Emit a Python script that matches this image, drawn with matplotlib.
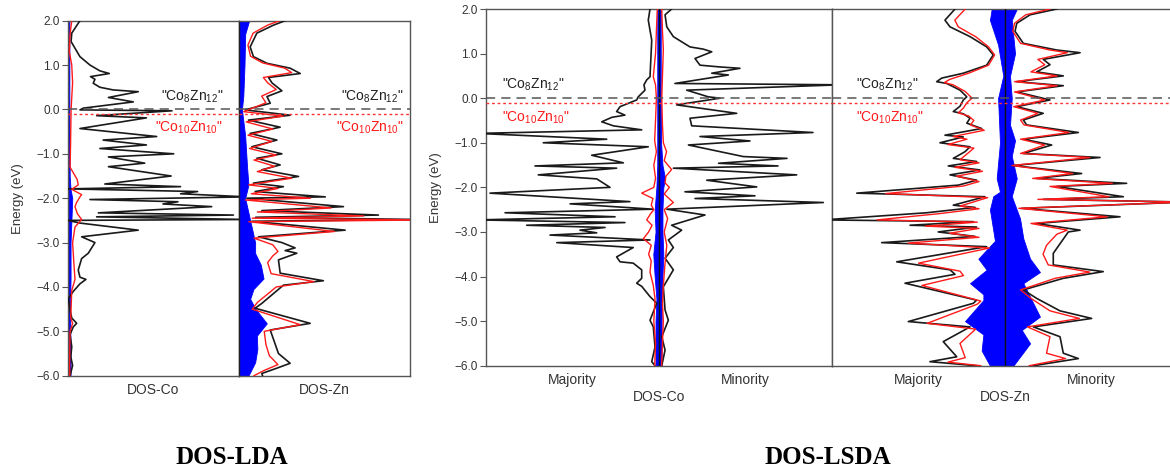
import numpy as np
import matplotlib
matplotlib.use("Agg")
import matplotlib.pyplot as plt

plt.rcParams['font.family'] = ['Liberation Sans', 'DejaVu Sans']

# ---------------- LDA, Co projected DOS ----------------
lda_co_black_e = [2.0, 1.72, 1.53, 1.19, 1.0, 0.87, 0.81, 0.74, 0.68, 0.59, 0.50, 0.44, 0.40, 0.27, 0.17,
                  0.03, -0.01, -0.03, -0.14, -0.19, -0.43, -0.61, -0.69, -0.80, -0.88, -1.0, -1.07, -1.21,
                  -1.29, -1.50, -1.68, -1.74, -1.79, -1.85, -1.90, -1.97, -2.03, -2.08, -2.13, -2.19, -2.33,
                  -2.38, -2.42, -2.48, -2.50, -2.56, -2.72, -2.87, -3.0, -3.24, -3.36, -3.62, -3.78, -3.83,
                  -3.93, -4.10, -4.26, -4.52, -4.70, -4.82, -4.90, -5.07, -5.35, -5.57, -5.77, -6.0]
lda_co_black = [0.70, 0.22, 0.18, 0.70, 1.29, 1.87, 2.42, 1.32, 1.58, 1.48, 1.87, 2.65, 4.12, 2.37, 3.83,
                0.90, 0.70, 6.10, 1.68, 4.60, 0.70, 5.20, 2.06, 4.60, 1.87, 6.20, 2.37, 4.50,
                2.37, 6.05, 2.16, 6.60, 0.0, 7.60, 6.60, 10.5, 1.29, 6.45, 5.57, 8.43, 1.78,
                9.70, 1.68, 10.5, 0.0, 0.70, 4.12, 0.80, 1.58, 1.19, 0.80, 0.60, 0.70, 1.05,
                0.70, 0.31, 0.02, 0.12, 0.22, 0.51, 0.31, 0.12, 0.22, 0.16, 0.27, 0.12]
lda_co_red_e = [2.0, 1.7, 1.3, 1.0, 0.6, 0.0, -0.8, -1.3, -1.58, -1.70, -1.80, -1.92, -1.97, -2.10, -2.19,
                -2.35, -2.48, -2.65, -3.0, -3.5, -3.83, -4.08, -4.70, -4.82, -5.0, -5.5, -6.0]
lda_co_red = [0.22, 0.12, 0.08, 0.22, 0.27, 0.18, 0.15, 0.12, 0.54, 0.60, 0.22, 0.80, 0.70, 0.50, 0.41,
              0.55, 0.80, 0.41, 0.27, 0.35, 0.41, 0.22, 0.16, 0.27, 0.12, 0.10, 0.10]
lda_co_blue_e = [2.0, 0.0, -1.5, -1.8, -2.0, -2.5, -3.0, -3.8, -4.5, -5.5, -6.0]
lda_co_blue = [0.08, 0.08, 0.10, 0.15, 0.25, 0.20, 0.15, 0.15, 0.12, 0.15, 0.15]

# ---------------- LDA, Zn projected DOS ----------------
lda_zn_black_e = [2.0, 1.9, 1.72, 1.41, 1.19, 1.04, 0.93, 0.81, 0.72, 0.60, 0.42, 0.29, 0.14, -0.01,
                  -0.13, -0.24, -0.40, -0.54, -0.69, -0.84, -1.0, -1.10, -1.25, -1.36, -1.51, -1.66,
                  -1.74, -1.85, -1.97, -2.0, -2.19, -2.28, -2.38, -2.43, -2.48, -2.52, -2.72, -2.87,
                  -3.0, -3.12, -3.18, -3.24, -3.39, -3.69, -3.86, -3.96, -4.37, -4.48, -4.82, -4.97,
                  -5.5, -5.72, -5.83, -5.95, -6.0]
lda_zn_black = [2.72, 2.04, 1.07, 0.68, 0.87, 1.66, 3.01, 3.60, 1.75, 1.95, 2.53, 1.66, 1.85, 0.39,
                3.01, 0.58, 2.43, 0.68, 2.24, 0.78, 2.53, 1.07, 2.43, 1.36, 3.50, 0.87,
                2.62, 0.97, 5.06, 0.49, 6.12, 1.36, 8.16, 1.0, 10.5, 0.78, 6.22, 1.17,
                2.53, 3.30, 2.72, 3.40, 2.33, 2.43, 4.95, 2.62, 1.36, 0.97, 4.18, 1.85,
                2.33, 3.01, 2.24, 1.36, 1.40]
lda_zn_red_e = [2.0, 1.9, 1.72, 1.45, 1.2, 1.05, 0.93, 0.83, 0.72, 0.6, 0.45, 0.3, 0.15, -0.05, -0.15,
                -0.28, -0.44, -0.58, -0.72, -0.88, -1.03, -1.14, -1.28, -1.4, -1.55, -1.7, -1.78, -1.9,
                -2.0, -2.04, -2.22, -2.31, -2.4, -2.45, -2.49, -2.53, -2.75, -2.9, -3.05, -3.2, -3.3,
                -3.45, -3.7, -3.88, -4.0, -4.35, -4.5, -4.85, -5.0, -5.3, -5.55, -5.75, -5.88, -6.0]
lda_zn_red = [2.4, 1.7, 0.85, 0.55, 0.7, 1.4, 2.7, 3.1, 1.45, 1.7, 2.2, 1.35, 1.6, 0.3, 2.6,
              0.45, 2.0, 0.55, 1.95, 0.65, 2.2, 0.9, 2.1, 1.1, 3.1, 0.6, 2.3, 0.75,
              4.2, 0.4, 5.4, 1.1, 7.3, 0.8, 11.0, 0.6, 5.6, 0.9, 2.0, 2.3, 2.0,
              1.7, 1.9, 4.4, 2.2, 1.1, 0.8, 3.6, 1.5, 1.6, 1.8, 2.3, 1.5, 0.9]
lda_zn_blue_e = [2.0, 1.7, 1.0, 0.3, 0.0, -0.6, -1.3, -1.7, -2.0, -2.5, -3.0, -3.24, -3.5, -3.81,
                 -4.05, -4.27, -4.5, -4.82, -5.1, -5.4, -5.7, -6.0]
lda_zn_blue = [0.62, 0.39, 0.35, 0.28, 0.20, 0.39, 0.50, 0.58, 0.39, 0.68, 0.97, 0.97, 1.30, 1.46,
               0.87, 0.68, 1.00, 1.65, 1.07, 1.10, 0.97, 0.58]

# ---------------- LSDA, Co (majority < 0, minority > 0) ----------------
lsda_co_maj_black_e = [2.0, 1.75, 1.30, 0.48, 0.41, 0.30, 0.18, 0.03, -0.04, -0.19, -0.30, -0.38, -0.43,
                       -0.53, -0.62, -0.71, -0.79, -0.92, -1.0, -1.09, -1.28, -1.45, -1.52, -1.57, -1.72,
                       -1.81, -2.0, -2.13, -2.32, -2.37, -2.49, -2.57, -2.66, -2.73, -2.79, -2.85, -2.90,
                       -2.96, -3.02, -3.07, -3.18, -3.24, -3.35, -3.56, -3.67, -3.70, -3.85, -4.04, -4.15,
                       -4.22, -4.45, -4.60, -4.98, -5.13, -5.58, -5.91, -6.0]
lsda_co_maj_black = [-0.52, -0.62, -0.42, -0.52, -0.71, -0.87, -0.81, -1.20, -1.29, -2.25, -2.45, -1.97, -2.73,
                     -3.31, -2.64, -1.0, -10.5, -3.02, -6.69, -0.62, -3.89, -2.06, -7.17, -2.45, -6.98,
                     -3.60, -2.83, -9.77, -1.68, -5.14, -0.33, -8.90, -2.54, -10.5, -1.97, -7.65, -3.12,
                     -4.57, -3.60, -6.30, -0.52, -5.91, -1.49, -2.45, -2.25, -1.49, -1.0, -1.0, -1.29,
                     -1.0, -0.52, -0.13, -0.52, -0.33, -0.23, -0.42, -0.23]
lsda_co_min_black_e = [2.0, 1.87, 1.6, 1.38, 1.15, 1.10, 1.04, 0.89, 0.74, 0.70, 0.67, 0.56, 0.52, 0.33,
                       0.30, 0.18, 0.03, 0.0, -0.15, -0.34, -0.45, -0.62, -0.77, -0.86, -0.96, -1.05,
                       -1.31, -1.35, -1.46, -1.52, -1.57, -1.72, -1.84, -1.99, -2.10, -2.19, -2.25, -2.34,
                       -2.49, -2.62, -2.85, -2.96, -3.18, -3.35, -3.59, -3.85, -4.23, -4.75, -4.98, -5.35,
                       -5.65, -6.0]
lsda_co_min_black = [0.73, 0.35, 0.45, 0.83, 1.79, 2.56, 3.05, 2.08, 2.37, 3.53, 4.68, 3.05, 4.01, 0.92,
                     10.5, 1.60, 2.85, 3.53, 1.02, 4.49, 1.79, 1.89, 8.90, 2.37, 5.26, 1.70,
                     4.88, 7.40, 3.44, 6.88, 0.83, 7.96, 2.76, 5.65, 1.50, 5.55, 2.08, 9.50,
                     0.45, 2.66, 0.73, 1.31, 0.54, 0.83, 0.35, 0.83, 0.25, 0.35, 0.54, 0.16,
                     0.35, 0.16]
lsda_co_maj_red_e = [2.0, 1.5, 1.0, 0.48, 0.3, 0.0, -0.5, -0.95, -1.2, -1.5, -1.8, -2.0, -2.13, -2.25,
                     -2.4, -2.5, -2.6, -2.73, -2.85, -3.0, -3.15, -3.3, -3.5, -3.65, -3.9, -4.2, -4.5,
                     -5.0, -5.5, -6.0]
lsda_co_maj_red = [-0.10, -0.15, -0.20, -0.33, -0.20, -0.15, -0.20, -0.25, -0.15, -0.30, -0.20, -0.30, -1.0,
                   -0.35, -0.45, -0.30, -0.50, -0.71, -0.40, -0.60, -0.90, -0.45, -0.60, -0.45, -0.52,
                   -0.33, -0.23, -0.30, -0.20, -0.25]
lsda_co_min_red_e = [2.0, 1.5, 1.1, 0.5, 0.0, -0.6, -1.0, -1.2, -1.4, -1.6, -1.75, -1.9, -2.0, -2.15,
                     -2.34, -2.5, -2.7, -3.0, -3.3, -3.7, -4.2, -4.6, -5.0, -5.5, -6.0]
lsda_co_min_red = [0.16, 0.20, 0.25, 0.20, 0.16, 0.20, 0.25, 0.44, 0.30, 0.73, 0.40, 0.35, 0.60, 0.30,
                   0.83, 0.30, 0.50, 0.30, 0.45, 0.35, 0.25, 0.20, 0.25, 0.20, 0.15]
lsda_co_maj_blue_e = [2.0, 0.0, -1.5, -2.0, -2.5, -3.0, -3.5, -4.0, -4.5, -5.0, -6.0]
lsda_co_maj_blue = [-0.10, -0.10, -0.10, -0.15, -0.25, -0.20, -0.33, -0.25, -0.15, -0.20, -0.20]
lsda_co_min_blue_e = [2.0, 0.0, -1.0, -1.5, -1.8, -2.0, -2.5, -3.0, -3.5, -4.0, -5.0, -6.0]
lsda_co_min_blue = [0.10, 0.10, 0.12, 0.20, 0.35, 0.25, 0.20, 0.20, 0.25, 0.20, 0.15, 0.15]

# ---------------- LSDA, Zn ----------------
lsda_zn_maj_black_e = [2.0, 1.75, 1.6, 1.38, 1.15, 0.97, 0.74, 0.56, 0.45, 0.37, 0.33, 0.18, 0.03, -0.04,
                       -0.18, -0.30, -0.35, -0.45, -0.56, -0.68, -0.83, -0.87, -1.0, -1.09, -1.2, -1.35,
                       -1.42, -1.52, -1.61, -1.72, -1.84, -1.95, -2.13, -2.21, -2.40, -2.45, -2.57, -2.73,
                       -2.77, -2.85, -2.89, -3.0, -3.1, -3.24, -3.33, -3.67, -3.85, -3.95, -4.15, -4.53,
                       -4.6, -5.01, -5.13, -5.46, -5.8, -5.91, -6.0]
lsda_zn_maj_black = [-2.89, -3.47, -3.18, -2.02, -1.06, -0.68, -1.06, -2.41, -3.66, -3.95, -3.37, -2.60, -2.21, -2.41,
                     -2.60, -2.99, -2.41, -2.02, -2.21, -1.35, -3.47, -2.41, -3.76, -2.02, -2.31, -2.99,
                     -1.64, -3.28, -1.45, -3.18, -1.64, -2.70, -8.57, -1.16, -2.99, -1.73, -4.53, -10.5,
                     -1.83, -5.49, -1.64, -3.86, -1.73, -7.13, -1.06, -6.26, -3.18, -2.89, -5.78, -1.64,
                     -1.83, -5.59, -2.02, -3.57, -2.79, -4.34, -1.64]
lsda_zn_min_black_e = [2.0, 1.87, 1.68, 1.5, 1.23, 1.08, 1.02, 0.87, 0.75, 0.59, 0.50, 0.37, 0.28, 0.14,
                       -0.04, -0.19, -0.34, -0.49, -0.60, -0.77, -0.92, -1.05, -1.24, -1.33, -1.51, -1.69,
                       -1.80, -1.91, -1.98, -2.21, -2.27, -2.33, -2.47, -2.66, -2.81, -2.96, -3.0, -3.48,
                       -3.74, -3.89, -4.04, -4.30, -4.49, -4.77, -4.94, -5.13, -5.35, -5.72, -5.84, -6.0]
lsda_zn_min_black = [2.99, 1.45, 0.68, 0.58, 1.06, 2.99, 4.34, 2.21, 2.60, 1.83, 3.37, 0.68, 3.37, 0.68,
                     2.60, 0.68, 2.21, 1.06, 1.25, 4.24, 1.06, 2.70, 1.06, 5.49, 0.48, 4.43,
                     1.83, 7.03, 2.99, 6.84, 2.21, 10.5, 0.97, 6.65, 1.83, 4.34, 3.66, 2.79,
                     2.79, 5.68, 3.37, 1.06, 1.83, 3.18, 5.01, 1.64, 3.18, 3.37, 4.24, 1.64]
lsda_zn_maj_red_e = [2.0, 1.75, 1.6, 1.38, 1.15, 0.97, 0.74, 0.56, 0.42, 0.35, 0.3, 0.15, 0.0, -0.1, -0.22,
                     -0.33, -0.4, -0.5, -0.6, -0.72, -0.86, -0.92, -1.04, -1.12, -1.22, -1.38, -1.45, -1.55,
                     -1.64, -1.75, -1.87, -1.97, -2.14, -2.23, -2.42, -2.48, -2.59, -2.73, -2.78, -2.87,
                     -2.92, -3.03, -3.12, -3.25, -3.36, -3.7, -3.88, -3.98, -4.2, -4.55, -4.62, -5.05,
                     -5.18, -5.5, -5.82, -5.92, -6.0]
lsda_zn_maj_red = [-2.3, -2.9, -2.7, -1.7, -0.95, -0.6, -0.95, -2.1, -3.2, -3.5, -3.0, -2.3, -1.9, -2.2, -2.4,
                   -2.7, -2.1, -1.8, -2.0, -1.2, -3.0, -2.2, -3.3, -1.8, -2.1, -2.6, -1.5, -2.9,
                   -1.3, -2.8, -1.5, -2.4, -6.9, -1.0, -2.6, -1.5, -3.8, -7.4, -1.6, -4.6,
                   -1.5, -3.2, -1.5, -5.6, -0.9, -5.0, -2.6, -2.4, -4.8, -1.4, -1.6, -4.5,
                   -1.7, -2.6, -2.3, -3.3, -1.4]
lsda_zn_min_red_e = [2.0, 1.87, 1.68, 1.5, 1.23, 1.08, 1.02, 0.87, 0.75, 0.59, 0.5, 0.37, 0.28, 0.14, -0.04,
                     -0.19, -0.34, -0.49, -0.6, -0.77, -0.92, -1.05, -1.24, -1.33, -1.51, -1.69, -1.8, -1.91,
                     -1.98, -2.21, -2.27, -2.33, -2.47, -2.66, -2.81, -2.96, -3.05, -3.3, -3.5, -3.74, -3.9,
                     -4.04, -4.3, -4.49, -4.77, -4.94, -5.13, -5.35, -5.72, -5.84, -6.0]
lsda_zn_min_red = [2.6, 1.2, 0.55, 0.45, 0.9, 2.6, 3.6, 1.9, 2.3, 1.5, 3.0, 0.55, 3.0, 0.55, 2.3,
                   0.5, 1.9, 0.9, 1.1, 3.7, 0.9, 2.3, 0.9, 4.9, 0.4, 3.9, 1.6, 6.2,
                   2.6, 6.0, 1.9, 10.5, 0.8, 5.9, 1.5, 3.6, 3.0, 2.4, 2.2, 2.5, 4.9,
                   2.9, 0.9, 1.5, 2.6, 4.3, 1.3, 2.6, 2.4, 3.5, 1.4]
lsda_zn_maj_blue_e = [2.0, 1.75, 1.2, 0.5, 0.0, -1.0, -1.8, -2.1, -2.2, -2.5, -3.2, -3.6, -3.85, -4.15,
                      -4.4, -4.53, -5.0, -5.3, -5.66, -6.0]
lsda_zn_maj_blue = [-0.77, -0.87, -0.40, -0.10, -0.40, -0.29, -0.48, -0.29, -0.68, -0.87, -0.58, -1.54,
                    -1.06, -2.02, -1.25, -1.25, -2.31, -1.25, -1.35, -0.87]
lsda_zn_min_blue_e = [2.0, 1.75, 1.0, 0.5, 0.0, -0.6, -0.95, -1.3, -1.8, -2.2, -2.7, -3.15, -3.6, -3.9,
                      -4.15, -4.9, -5.2, -5.5, -6.0]
lsda_zn_min_blue = [0.68, 0.39, 0.58, 0.29, 0.39, 0.29, 0.58, 0.39, 0.68, 0.39, 0.87, 1.06, 1.45, 2.02,
                    1.06, 2.02, 0.97, 1.45, 0.48]

E_FERMI_1 = 0.0    # Co8Zn12
E_FERMI_2 = -0.11  # Co10Zn10

W, H = 1170, 472
fig = plt.figure(figsize=(W / 100, H / 100), dpi=100)


def px_axes(x0, x1, y0, y1):
    return fig.add_axes([x0 / W, 1 - y1 / H, (x1 - x0) / W, (y1 - y0) / H])


def style(ax, ticks):
    ax.set_ylim(-6, 2)
    for s in ax.spines.values():
        s.set_color('#555555')
        s.set_linewidth(1.0)
    ax.set_xticks([])
    if ticks:
        ax.set_yticks(np.arange(-6, 2.01, 1.0))
        ax.yaxis.set_major_formatter(matplotlib.ticker.FuncFormatter(
            lambda v, pos: f'{v:.1f}'.replace('-', '\u2212')))
        ax.tick_params(axis='y', direction='out', length=4, width=0.8, color='#555555',
                       labelsize=8.5, labelcolor='#333333', pad=2)
        ax.set_ylabel('Energy (eV)', fontsize=9.5, color='#333333', labelpad=9)
    else:
        ax.set_yticks([])


def curves(ax, be, b, re, r, fe, f):
    ax.fill_betweenx(fe, 0, f, color='#0000ff', lw=0.6, zorder=2)
    ax.plot(b, be, color='#1a1a1a', lw=1.2, zorder=3)
    ax.plot(r, re, color='#ff1a1a', lw=1.0, zorder=4)


def fermi(ax):
    ax.axhline(E_FERMI_1, color='#555555', lw=1.1, dashes=(6, 4), zorder=5)
    ax.axhline(E_FERMI_2, color='#ff3333', lw=1.0, dashes=(2, 2), zorder=5)


def labels(ax, x, y1, y2, ha):
    ax.text(x, y1, '"Co$\\mathregular{_8}$Zn$\\mathregular{_{12}}$"', transform=ax.transAxes,
            ha=ha, va='center', fontsize=10, color='#222222', zorder=6)
    ax.text(x, y2, '"Co$\\mathregular{_{10}}$Zn$\\mathregular{_{10}}$"', transform=ax.transAxes,
            ha=ha, va='center', fontsize=10, color='#ff1a1a', zorder=6)


# LDA panels
ax1 = px_axes(68, 238.5, 20.7, 375.7)
ax2 = px_axes(238.5, 410, 20.7, 375.7)
for ax in (ax1, ax2):
    ax.set_xlim(0, 10)
curves(ax1, lda_co_black_e, lda_co_black, lda_co_red_e, lda_co_red, lda_co_blue_e, lda_co_blue)
curves(ax2, lda_zn_black_e, lda_zn_black, lda_zn_red_e, lda_zn_red, lda_zn_blue_e, lda_zn_blue)
style(ax1, True)
style(ax2, False)
ax2.spines['left'].set_color('#222222')
for ax in (ax1, ax2):
    fermi(ax)
labels(ax1, 0.909, 0.785, 0.698, 'right')
labels(ax2, 0.962, 0.785, 0.698, 'right')
ax1.set_xlabel('DOS-Co', fontsize=10, color='#333333', labelpad=5)
ax2.set_xlabel('DOS-Zn', fontsize=10, color='#333333', labelpad=5)

# LSDA panels
ax3 = px_axes(486, 832, 9, 365.7)
ax4 = px_axes(832, 1178, 9, 365.7)
for ax in (ax3, ax4):
    ax.set_xlim(-10, 10)
    ax.axvline(0, color='#111111', lw=1.0, zorder=4.5)
curves(ax3, lsda_co_maj_black_e, lsda_co_maj_black, lsda_co_maj_red_e, lsda_co_maj_red,
       lsda_co_maj_blue_e, lsda_co_maj_blue)
curves(ax3, lsda_co_min_black_e, lsda_co_min_black, lsda_co_min_red_e, lsda_co_min_red,
       lsda_co_min_blue_e, lsda_co_min_blue)
curves(ax4, lsda_zn_maj_black_e, lsda_zn_maj_black, lsda_zn_maj_red_e, lsda_zn_maj_red,
       lsda_zn_maj_blue_e, lsda_zn_maj_blue)
curves(ax4, lsda_zn_min_black_e, lsda_zn_min_black, lsda_zn_min_red_e, lsda_zn_min_red,
       lsda_zn_min_blue_e, lsda_zn_min_blue)
style(ax3, True)
style(ax4, False)
for ax in (ax3, ax4):
    fermi(ax)
labels(ax3, 0.046, 0.787, 0.694, 'left')
labels(ax4, 0.068, 0.787, 0.694, 'left')

for ax, name in ((ax3, 'DOS-Co'), (ax4, 'DOS-Zn')):
    ax.text(0.25, -0.04, 'Majority', transform=ax.transAxes, ha='center', va='center',
            fontsize=10, color='#333333')
    ax.text(0.75, -0.04, 'Minority', transform=ax.transAxes, ha='center', va='center',
            fontsize=10, color='#333333')
    ax.text(0.5, -0.088, name, transform=ax.transAxes, ha='center', va='center',
            fontsize=10, color='#333333')

fig.text(232 / W, 1 - 457 / H, 'DOS-LDA', ha='center', va='center', fontsize=18,
         fontweight='bold', family='Liberation Serif')
fig.text(828 / W, 1 - 457 / H, 'DOS-LSDA', ha='center', va='center', fontsize=18,
         fontweight='bold', family='Liberation Serif')

fig.savefig('out.png', dpi=100)
